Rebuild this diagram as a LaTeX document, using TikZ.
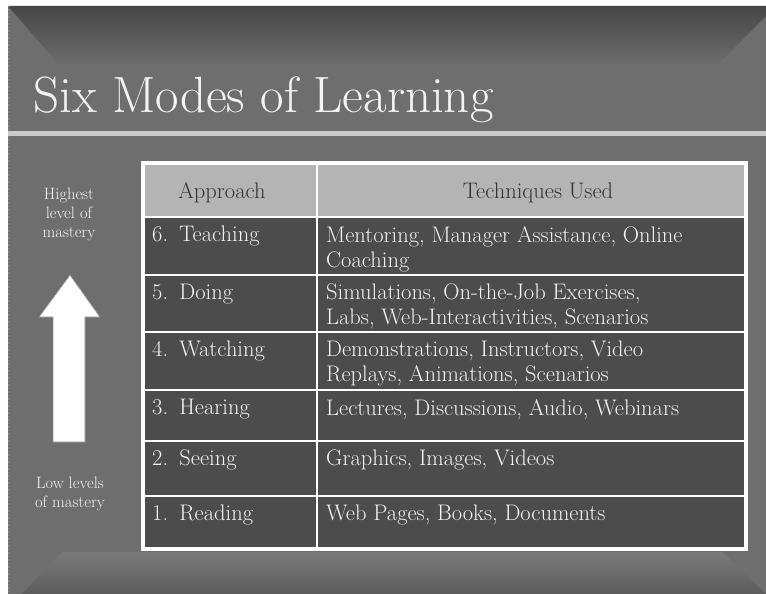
\documentclass[tikz,border=0pt]{standalone}
\usepackage{fontspec}
\usetikzlibrary{positioning}
\definecolor{slidegray}{HTML}{6E6E6E}
\definecolor{topgray}{HTML}{464646}
\definecolor{lowgray}{HTML}{7A7A7A}
\definecolor{edgegray}{HTML}{5C5C5C}
\definecolor{hdrgray}{HTML}{B4B4B4}
\definecolor{rowgray}{HTML}{4C4C4C}
\definecolor{linegray}{HTML}{CACACA}
\definecolor{txtwhite}{HTML}{F4F4F4}
\definecolor{hdrtext}{HTML}{333333}
\tikzset{
    cell/.style={anchor=north west, inner sep=0pt, align=left, text=txtwhite,
        font=\fontsize{22.5}{25}\selectfont},
    hdr/.style={anchor=base, inner sep=0pt, text=hdrtext, font=\fontsize{22.5}{25}\selectfont},
    side/.style={anchor=north, inner sep=0pt, align=center, text=txtwhite,
        font=\fontsize{16.5}{19}\selectfont}
}
\begin{document}
\begin{tikzpicture}[x=1pt,y=-1pt]
    \useasboundingbox (0,0) rectangle (766,594);
    \fill[white] (0,0) rectangle (766,594);
    \fill[slidegray] (8,6) rectangle (766,594);
    \shade[top color=topgray, bottom color=slidegray]
        (8,6) -- (766,6) -- (766,16) -- (716,66) -- (60,66) -- cycle;
    \shade[top color=lowgray, bottom color=edgegray]
        (62,552) -- (722,552) -- (766,594) -- (22,594) -- cycle;
    \draw[gray, dotted, line width=1.5pt] (9,6) -- (9,594);
    \node[anchor=base west, inner sep=0pt, text=txtwhite, font=\fontsize{51}{51}\selectfont]
        (title) at (33,112) {Six Modes of Learning};
    \fill[linegray] (8,131) rectangle (766,136);
    \fill[rowgray] (143,163) rectangle (746,549);
    \fill[hdrgray] (143,163) rectangle (746,217);
    \foreach \y in {217,275,332,390,441,496}
        \draw[white, line width=1.5pt] (143,\y) -- (746,\y);
    \draw[white, line width=1.5pt] (317,163) -- (317,549);
    \draw[white, line width=3.5pt] (143,163) rectangle (746,549);
    \node[hdr] (approach) at (222,198) {Approach};
    \node[hdr] (techniques) at (538,198) {Techniques Used};
    \foreach \top/\num/\mode/\tech in {
        217/6/Teaching/{Mentoring, Manager Assistance, Online\\Coaching},
        275/5/Doing/{Simulations, On-the-Job Exercises,\\Labs, Web-Interactivities, Scenarios},
        332/4/Watching/{Demonstrations, Instructors, Video\\Replays, Animations, Scenarios},
        390/3/Hearing/{Lectures, Discussions, Audio, Webinars},
        441/2/Seeing/{Graphics, Images, Videos},
        496/1/Reading/{Web Pages, Books, Documents}} {
        \node[cell] (mode\num) at (152,\top+9) {\num.\hspace{0.5em}\mode};
        \node[cell] (tech\num) at (326,\top+9) {\tech};
    }
    \filldraw[fill=white, draw=black!45, line width=0.6pt]
        (70,275) -- (100,317) -- (85,317) -- (85,442) -- (53,442) -- (53,317) -- (39,317) -- cycle;
    \node[side] (high) at (69,188) {Highest\\level of\\mastery};
    \node[side] (low) at (70,477) {Low levels\\of mastery};
\end{tikzpicture}
\end{document}
